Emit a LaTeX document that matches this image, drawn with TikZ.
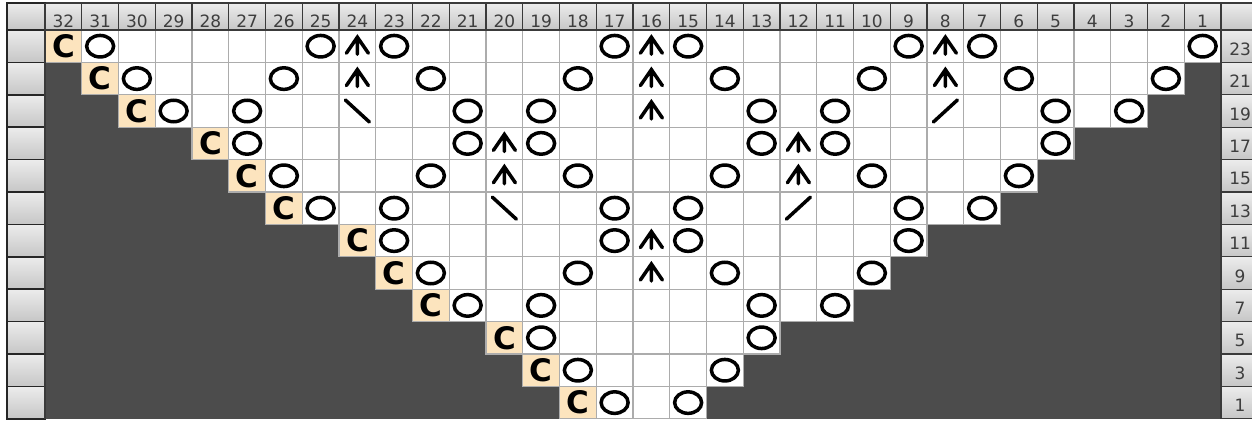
\documentclass[tikz,border=0pt]{standalone}
\usepackage{fontspec}
\setmainfont{DejaVu Sans}
\usepackage{xcolor}
\usepackage{tikz}
\usetikzlibrary{shapes.geometric}

\definecolor{chartdark}{RGB}{76,76,76}
\definecolor{gridgray}{RGB}{172,172,172}
\definecolor{cabletan}{RGB}{252,228,190}
\definecolor{hdrtop}{RGB}{236,236,236}
\definecolor{hdrbot}{RGB}{198,198,198}
\definecolor{hdrline}{RGB}{58,58,58}
\definecolor{hdrtext}{RGB}{62,62,62}

\tikzset{
  cellbox/.style={draw=gridgray,line width=1.3pt,fill=white},
  cablebox/.style={draw=gridgray,line width=1.3pt,fill=cabletan},
  cablabel/.style={font=\fontsize{31}{31}\selectfont\bfseries,inner sep=0pt},
  yo/.style={draw,ellipse,line width=3.5pt,minimum width=27pt,minimum height=21.5pt,inner sep=0pt},
  dbldec/.style={line width=3.5pt,line cap=round,line join=miter},
  slant/.style={line width=3.5pt,line cap=round},
  hdrcell/.style={draw=hdrline,line width=1.2pt,top color=hdrtop,bottom color=hdrbot},
  hdrnum/.style={font=\fontsize{17}{17}\selectfont,text=hdrtext,anchor=base,inner sep=0pt},
  btncell/.style={draw=black!85,line width=1.6pt,top color=hdrtop,bottom color=hdrbot}
}

\begin{document}
\begin{tikzpicture}
\useasboundingbox[fill=white] (0pt,0pt) rectangle (1252pt,-422pt);
\begin{scope}[shift={(1239.375pt,-418.8pt)},x=-36.75pt,y=16.2pt]
\fill[chartdark] (32.5,0) rectangle (0.5,24);
\foreach \r/\lo/\hi in {23/1/32,21/2/31,19/3/30,17/5/28,15/6/27,13/7/26,11/9/24,9/10/23,7/11/22,5/13/20,3/14/19,1/15/18}{
  \foreach \c in {\lo,...,\hi}
    \draw[cellbox] (\c-0.5,\r-1) rectangle (\c+0.5,\r+1);
  \draw[cablebox] (\hi-0.5,\r-1) rectangle (\hi+0.5,\r+1);
  \node[cablabel] (cab-\r) at (\hi,\r) {C};
  \draw[btncell] (33.53,\r-1) rectangle (32.5,\r+1);
  \draw[hdrcell] (0.5,\r-1) rectangle (-0.35,\r+1);
  \node[hdrnum] (row-\r) at (-0.02,\r-0.56) {\r};
}
\foreach \r/\cols in {23/{31,25,23,17,15,9,7,1},21/{30,26,22,18,14,10,6,2},19/{29,27,21,19,13,11,5,3},
  17/{27,21,19,13,11,5},15/{26,22,18,14,10,6},13/{25,23,17,15,9,7},11/{23,17,15,9},9/{22,18,14,10},
  7/{21,19,13,11},5/{19,13},3/{18,14},1/{17,15}}
  \foreach \c in \cols
    \node[yo] (yo-\c-\r) at (\c,\r) {};
\foreach \c/\r in {24/23,16/23,8/23,24/21,16/21,8/21,16/19,20/17,12/17,20/15,12/15,16/11,16/9}
  \draw[dbldec] (\c,\r) ++(-11pt,-7pt) -- ++(11pt,16pt) -- ++(11pt,-16pt)
    (\c,\r) ++(0pt,9pt) -- ++(0pt,-17pt);
\foreach \c/\r in {24/19,20/13}
  \draw[slant] (\c,\r) ++(-12pt,11pt) -- ++(24pt,-22pt);
\foreach \c/\r in {8/19,12/13}
  \draw[slant] (\c,\r) ++(-12pt,-11pt) -- ++(24pt,22pt);
\foreach \c in {1,...,32}{
  \draw[hdrcell] (\c-0.5,24) rectangle (\c+0.5,25.67);
  \node[hdrnum] (col-\c) at (\c,24.13) {\c};
}
\draw[hdrcell] (0.5,24) rectangle (-0.35,25.67);
\draw[btncell] (33.53,24) rectangle (32.5,25.67);
\draw[hdrline,line width=1.6pt] (32.5,0) -- (32.5,25.67) (0.5,0) -- (0.5,25.67);
\end{scope}
\end{tikzpicture}
\end{document}
